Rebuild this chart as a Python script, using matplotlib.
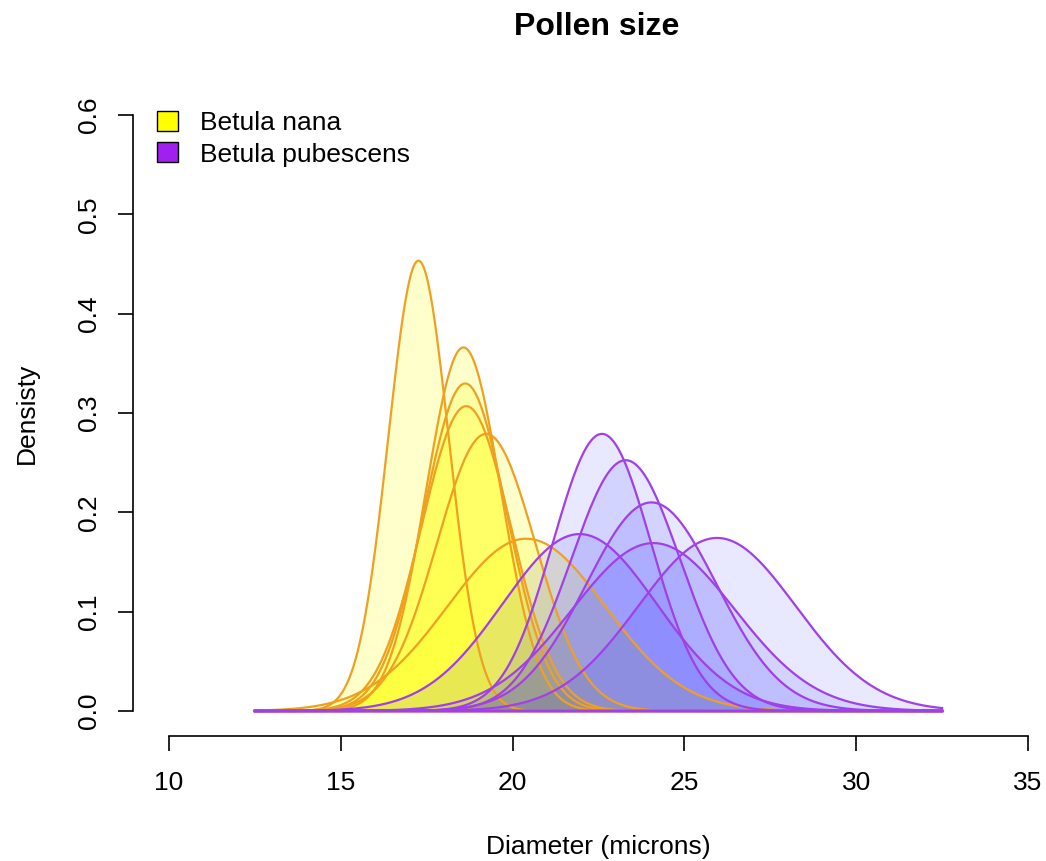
import numpy as np
import matplotlib
matplotlib.use("Agg")
import matplotlib.pyplot as plt
from matplotlib.patches import Patch

plt.rcParams["font.family"] = ["Liberation Sans", "DejaVu Sans"]

nana_means = [17.26, 18.57, 18.62, 18.65, 19.23, 20.40]
nana_sds = [0.88, 1.09, 1.21, 1.30, 1.43, 2.30]
pub_means = [22.60, 23.29, 24.04, 21.95, 24.10, 25.95]
pub_sds = [1.43, 1.58, 1.90, 2.24, 2.36, 2.29]
species = ["Betula nana", "Betula pubescens"]
x_from, x_to = 12.5, 32.5

x = np.linspace(x_from, x_to, 600)


def dnorm(x, m, s):
    return np.exp(-0.5 * ((x - m) / s) ** 2) / (s * np.sqrt(2 * np.pi))


fig = plt.figure(figsize=(10.46, 8.61), dpi=100)
ax = fig.add_axes([133 / 1046, 1 - 736 / 861, 1 - 133 / 1046, (736 - 89) / 861])

for m, s in zip(nana_means, nana_sds):
    y = dnorm(x, m, s)
    ax.fill_between(x, 0, y, color="yellow", alpha=0.2, lw=0)
    ax.plot(x, y, color="#F0A020", lw=1.6)
    ax.plot([x_from, x_to], [0, 0], color="#F0A020", lw=1.6)

for m, s in zip(pub_means, pub_sds):
    y = dnorm(x, m, s)
    ax.fill_between(x, 0, y, color="blue", alpha=0.09, lw=0)
    ax.plot(x, y, color="#A040E8", lw=1.6)
    ax.plot([x_from, x_to], [0, 0], color="#A040E8", lw=1.6)

ax.set_xlim(10 - 36 / 34.32, 35 + 18 / 34.32)
ax.set_ylim(-25 / 993, 0.6 + 26 / 993)
ax.set_xticks([10, 15, 20, 25, 30, 35])
ax.set_yticks([0.0, 0.1, 0.2, 0.3, 0.4, 0.5, 0.6])
ax.set_yticklabels(["0.0", "0.1", "0.2", "0.3", "0.4", "0.5", "0.6"], rotation=90, va="center")
for side in ["top", "right"]:
    ax.spines[side].set_visible(False)
ax.spines["bottom"].set_bounds(10, 35)
ax.spines["left"].set_bounds(0, 0.6)
ax.spines["bottom"].set_linewidth(1.2)
ax.spines["left"].set_linewidth(1.2)
ax.tick_params(axis="x", length=11, width=1.2, labelsize=19, pad=14)
ax.tick_params(axis="y", length=11, width=1.2, labelsize=19, pad=12)
ax.patch.set_alpha(0)

fig.text(597 / 1046, 1 - 27 / 861, "Pollen size", ha="center", va="center",
         fontsize=23, fontweight="bold")
fig.text(598 / 1046, 1 - 847 / 861, "Diameter (microns)", ha="center", va="center", fontsize=19)
fig.text(27 / 1046, 1 - 413 / 861, "Densisty", ha="center", va="center", fontsize=19, rotation=90)

handles = [Patch(facecolor="yellow", edgecolor="black", lw=1),
           Patch(facecolor="#A020F0", edgecolor="black", lw=1)]
ax.legend(handles, species, loc="upper left", bbox_to_anchor=(157 / 1046, 1 - 111 / 861),
          bbox_transform=fig.transFigure, frameon=False, fontsize=19,
          handlelength=0.78, handleheight=0.78, handletextpad=0.85, labelspacing=0.28,
          borderpad=0, borderaxespad=0)

fig.savefig("out.png", dpi=100)
